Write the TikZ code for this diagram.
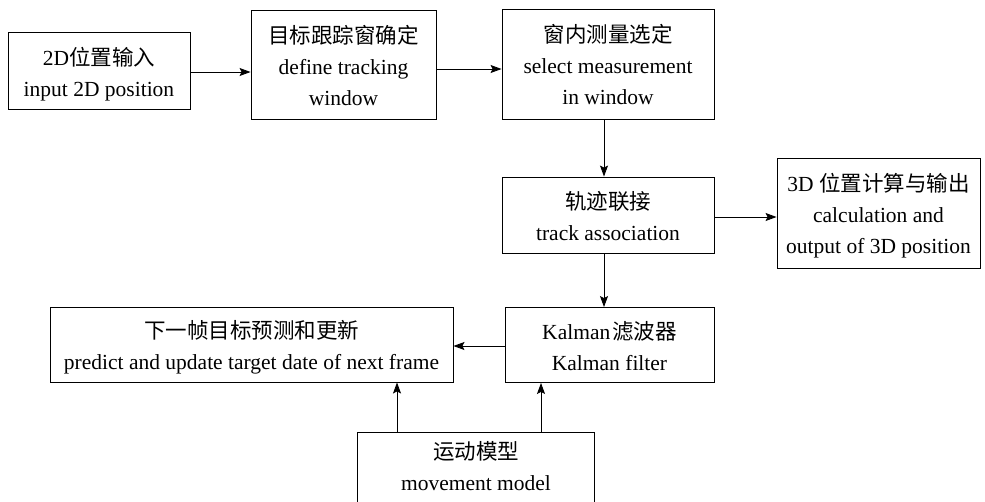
\documentclass[tikz,border=0pt]{standalone}
\usepackage{fontspec}
\setmainfont{Liberation Serif}
\newfontfamily\cjk{Noto Sans CJK SC}
\usetikzlibrary{arrows.meta}
\newcommand\sa{\rule[-5pt]{0pt}{29pt}}
\begin{document}
\begin{tikzpicture}[x=1pt,y=-1pt,
  box/.style={draw, line width=0.9pt, align=center, inner sep=0pt, font=\fontsize{21.5}{31}\selectfont},
  arr/.style={-{Stealth[length=11pt,width=8pt,inset=2pt]}, line width=0.9pt}]
\useasboundingbox (0,0) rectangle (985,501);
\clip (0,0) rectangle (985,501);
\fill[white] (0,0) rectangle (985,501);
\node[box, minimum width=182pt, minimum height=77pt] (b1) at (99,71) {\sa 2D{\cjk 位置输入}\\\sa input 2D position};
\node[box, minimum width=185pt, minimum height=109pt] (b2) at (343.5,64.5) {\sa{\cjk 目标跟踪窗确定}\\\sa define tracking\\\sa window};
\node[box, minimum width=212pt, minimum height=110pt] (b3) at (608,64) {\sa{\cjk 窗内测量选定}\\\sa select measurement\\\sa in window};
\node[box, minimum width=212pt, minimum height=76pt] (b4) at (608,215) {\sa{\cjk 轨迹联接}\\\sa track association};
\node[box, minimum width=203pt, minimum height=110pt] (b5) at (878.5,213) {\sa 3D {\cjk 位置计算与输出}\\\sa calculation and\\\sa output of 3D position};
\node[box, minimum width=403pt, minimum height=75pt] (b6) at (251.5,344.5) {\sa{\cjk 下一帧目标预测和更新}\\\sa predict and update target date of next frame};
\node[box, minimum width=209pt, minimum height=75pt] (b7) at (609.5,345) {\sa Kalman\hspace{2pt}{\cjk 滤波器}\\\sa Kalman filter};
\node[box, minimum width=237pt, anchor=north] (b8) at (476,432) {\rule[-5pt]{0pt}{32pt}{\cjk 运动模型}\\\rule[-13pt]{0pt}{29pt}movement model};
\coordinate (ya) at (0,72);
\coordinate (yb) at (0,69);
\coordinate (yc) at (0,217);
\coordinate (yd) at (0,346);
\coordinate (xa) at (604,0);
\coordinate (xb) at (397,0);
\coordinate (xc) at (541,0);
\draw[arr] (b1.east |- ya) -- (b2.west |- ya);
\draw[arr] (b2.east |- yb) -- (b3.west |- yb);
\draw[arr] (b3.south -| xa) -- (b4.north -| xa);
\draw[arr] (b4.east |- yc) -- (b5.west |- yc);
\draw[arr] (b4.south -| xa) -- (b7.north -| xa);
\draw[arr] (b7.west |- yd) -- (b6.east |- yd);
\draw[arr] (b8.north -| xb) -- (b6.south -| xb);
\draw[arr] (b8.north -| xc) -- (b7.south -| xc);
\end{tikzpicture}
\end{document}
